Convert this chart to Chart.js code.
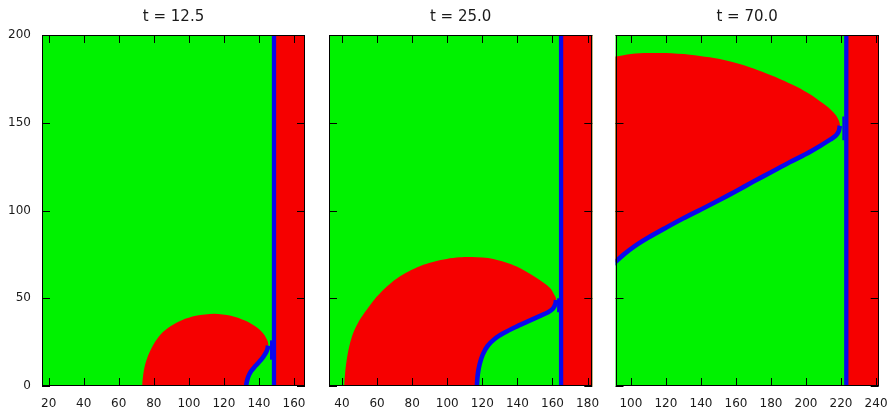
<!DOCTYPE html>
<html><head><meta charset="utf-8">
<script src="https://cdn.jsdelivr.net/npm/chart.js@4.4.1/dist/chart.umd.min.js"></script>
<style>
html,body{margin:0;padding:0;background:#fff;}
#wrap{position:relative;width:895px;height:417px;overflow:hidden;background:#fff;}
canvas{position:absolute;top:0;}
</style></head><body>
<div id="wrap">
<canvas id="c1" width="312" height="417" style="left:0px"></canvas>
<canvas id="c2" width="288" height="417" style="left:312px"></canvas>
<canvas id="c3" width="295" height="417" style="left:600px"></canvas>
</div>
<script>
// ---------- data ----------
const titles = ['t = 12.5', 't = 25.0', 't = 70.0'];
const xMin = [16.2, 32.6, 91.2];
const xMax = [166.3, 182.7, 241.5];
const yMin = 0, yMax = 200;
const xTicks1 = [20, 40, 60, 80, 100, 120, 140, 160];
const xTicks2 = [40, 60, 80, 100, 120, 140, 160, 180];
const xTicks3 = [100, 120, 140, 160, 180, 200, 220, 240];
const yTicks = [0, 50, 100, 150, 200];

// position of the straight front (vertical blue line)
const frontX = [148.6, 164.9, 223.0];
// small blue bulge on the left of the front
const blipX = [146.9, 163.2, 221.3];
const blipY0 = [15, 42, 140];
const blipY1 = [26, 50, 153.6];

// red blob: green-side outline
const blob1X = [73.4, 73.9, 75.0, 77.0, 80.0, 84.0, 89.5, 96.0, 104.0, 114.5, 124.0, 132.0, 138.5, 142.8, 145.0, 145.4];
const blob1Y = [0, 6, 12, 18, 24, 29.5, 34, 37.5, 40, 41.2, 40, 37.3, 33.6, 29.5, 25.5, 23.2];
// blue edge of blob
const edge1X = [145.2, 144.9, 144.0, 142.4, 140.2, 137.8, 135.6, 134.0, 133.1, 132.7];
const edge1Y = [23.0, 21.2, 19.0, 16.5, 13.8, 11.2, 8.5, 5.5, 2.5, 0];

const blob2X = [41.3, 41.8, 42.7, 44.2, 46.4, 49.8, 54.1, 58.6, 63.6, 68.3, 73.1, 79.5, 86.4, 92.9, 99.7, 107.0, 114.0, 126.3, 139.6, 151.0, 158.6, 161.5, 162.1, 162.1];
const blob2Y = [0, 7.5, 15.0, 22.8, 30.2, 37.2, 43.5, 49.5, 54.9, 59.0, 62.5, 66.1, 69.1, 71.0, 72.4, 73.3, 73.5, 72.4, 68.1, 61.5, 55.8, 51.1, 49.5, 48.0];
const edge2X = [162.0, 161.6, 160.2, 157.5, 153.0, 146.0, 139.0, 132.5, 127.0, 123.0, 120.3, 118.5, 117.4, 116.9];
const edge2Y = [49.0, 46.5, 44.0, 42.0, 40.0, 36.8, 33.6, 30.3, 26.8, 22.8, 18.0, 12.5, 6.5, 0];

const blob3X = [85, 91.4, 100, 110, 120, 133.7, 145, 155, 165, 175, 185, 195, 203, 209, 214, 217.3, 219.0, 219.4];
const blob3Y = [187.5, 187.8, 189.2, 189.7, 189.7, 188.8, 187.3, 185.3, 182.6, 179.0, 175.0, 170.4, 165.8, 161.5, 157.6, 154.0, 150.5, 148.5];
const edge3X = [219.3, 218.7, 217.0, 214.0, 208, 200, 190.9, 180, 170, 160, 150, 140, 130, 120, 110, 102, 96, 91.4, 87];
const edge3Y = [148.3, 145.2, 142.6, 140.5, 136.8, 132.2, 127.6, 121.8, 116.5, 111.0, 105.7, 100.6, 95.6, 90.2, 84.6, 79.6, 75.0, 70.8, 66.0];

// ---------- style ----------
const GREEN = 'rgb(0,242,0)';
const RED = 'rgb(246,0,0)';
const BLUE = 'rgb(8,8,238)';
const TXT = '#1a1a1a';
const FONT = 'DejaVu Sans';
const TL = 8;

const pts = (xs, ys) => xs.map((x, i) => ({x, y: ys[i]}));

const framePlugin = {
  id: 'framePlugin',
  beforeDatasetsDraw(chart) {
    const {ctx, chartArea: a} = chart;
    ctx.save();
    ctx.fillStyle = GREEN;
    ctx.fillRect(a.left, a.top, a.right - a.left, a.bottom - a.top);
    ctx.restore();
  },
  afterDatasetsDraw(chart) {
    const {ctx, chartArea: a, scales} = chart;
    ctx.save();
    ctx.strokeStyle = '#000';
    ctx.lineWidth = 1;
    ctx.beginPath();
    for (const t of scales.x.ticks) {
      const px = Math.round(scales.x.getPixelForValue(t.value)) + 0.5;
      ctx.moveTo(px, a.bottom); ctx.lineTo(px, a.bottom - TL);
      ctx.moveTo(px, a.top); ctx.lineTo(px, a.top + TL);
    }
    for (const v of yTicks) {
      const py = Math.round(scales.y.getPixelForValue(v)) + 0.5;
      ctx.moveTo(a.left, py); ctx.lineTo(a.left + TL, py);
      ctx.moveTo(a.right, py); ctx.lineTo(a.right - TL, py);
    }
    ctx.stroke();
    ctx.strokeRect(Math.round(a.left) + 0.5, Math.round(a.top) + 0.5,
      Math.round(a.right) - Math.round(a.left) - 1, Math.round(a.bottom) - Math.round(a.top) - 1);
    ctx.restore();
  }
};

function zeroPad(s) { s.paddingLeft = 0; s.paddingRight = 0; s.paddingTop = 0; s.paddingBottom = 0; }

function makePanel(id, k, blobX, blobY, edgeX, edgeY, xTicks, showY, yW, padR) {
  const lo = yMin - 20, hi = yMax + 20;
  const poly = [{x: blobX[0], y: lo}].concat(pts(blobX, blobY), pts(edgeX, edgeY),
    [{x: edgeX[edgeX.length - 1], y: lo}]);
  const strip = [{x: frontX[k], y: lo}, {x: xMax[k] + 20, y: lo}, {x: xMax[k] + 20, y: hi}, {x: frontX[k], y: hi}];
  const common = {showLine: true, pointRadius: 0, pointHoverRadius: 0, clip: 0};
  new Chart(document.getElementById(id), {
    type: 'scatter',
    data: {
      datasets: [
        Object.assign({data: strip, fill: 'shape', backgroundColor: RED, borderColor: 'rgba(0,0,0,0)', borderWidth: 0, tension: 0, order: 3}, common),
        Object.assign({data: poly, fill: 'shape', backgroundColor: RED, borderColor: 'rgba(0,0,0,0)', borderWidth: 0, tension: 0.3, order: 2}, common),
        Object.assign({data: pts(edgeX, edgeY), fill: false, borderColor: BLUE, borderWidth: 4.6, tension: 0.3, borderCapStyle: 'butt', order: 1}, common),
        Object.assign({data: [{x: frontX[k], y: lo}, {x: frontX[k], y: hi}], fill: false, borderColor: BLUE, borderWidth: 4.3, order: 0}, common),
        Object.assign({data: [{x: blipX[k], y: blipY0[k]}, {x: blipX[k], y: blipY1[k]}], fill: false, borderColor: BLUE, borderWidth: 2, order: 0}, common)
      ]
    },
    options: {
      responsive: false,
      animation: false,
      devicePixelRatio: 1,
      events: [],
      layout: {padding: {left: 0, right: padR, top: 0, bottom: 0}},
      plugins: {
        legend: {display: false},
        tooltip: {enabled: false},
        title: {
          display: true, text: titles[k], fullSize: false, color: TXT,
          font: {family: FONT, size: 15, weight: 'normal'},
          padding: {top: 8, bottom: 9}
        }
      },
      scales: {
        x: {
          type: 'linear', position: 'bottom', min: xMin[k], max: xMax[k],
          grid: {display: false, drawTicks: false}, border: {display: false},
          ticks: {font: {family: FONT, size: 12}, color: TXT, padding: 11, autoSkip: false, maxRotation: 0},
          afterBuildTicks: s => { s.ticks = xTicks.map(v => ({value: v})); },
          afterFit: s => { s.height = 31; zeroPad(s); }
        },
        y: {
          type: 'linear', position: 'left', min: yMin, max: yMax,
          grid: {display: false, drawTicks: false}, border: {display: false},
          ticks: {display: showY, font: {family: FONT, size: 12}, color: TXT, padding: 11, autoSkip: false},
          afterBuildTicks: s => { s.ticks = yTicks.map(v => ({value: v})); },
          afterFit: s => { s.width = yW; zeroPad(s); }
        }
      }
    },
    plugins: [framePlugin]
  });
}

makePanel('c1', 0, blob1X, blob1Y, edge1X, edge1Y, xTicks1, true, 42, 7);
makePanel('c2', 1, blob2X, blob2Y, edge2X, edge2Y, xTicks2, false, 17, 7.7);
makePanel('c3', 2, blob3X, blob3Y, edge3X, edge3Y, xTicks3, false, 15.5, 16.3);
</script>
</body></html>
